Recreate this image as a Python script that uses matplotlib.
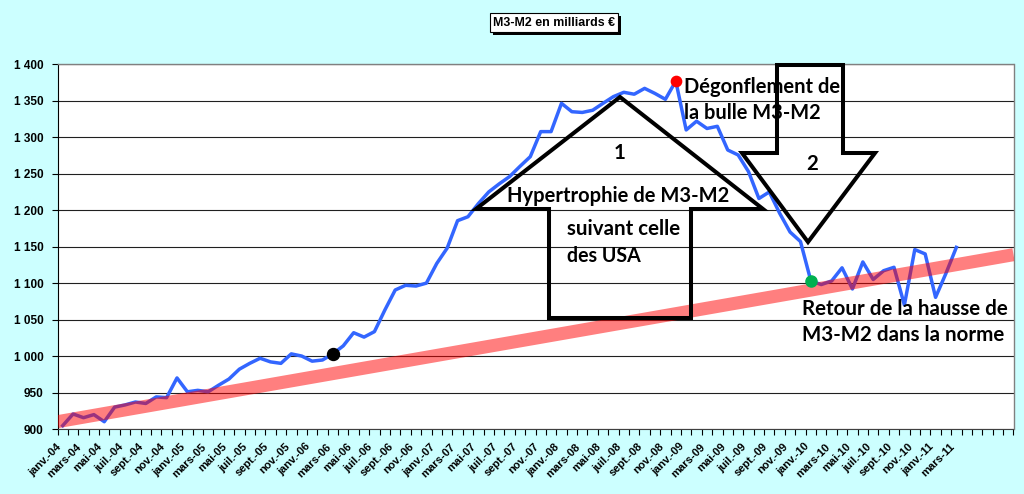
import numpy as np
import matplotlib
matplotlib.use("Agg")
import matplotlib.pyplot as plt
from matplotlib.patches import Polygon, Rectangle
from matplotlib.ticker import FuncFormatter, FixedLocator

# ---------------- data ----------------
month_abbr = ['janv.', 'févr.', 'mars', 'avr.', 'mai', 'juin',
              'juil.', 'août', 'sept.', 'oct.', 'nov.', 'déc.']
start_year = 2004
n_categories = 92          # category slots on the axis (data ends at mars-11)

m3_m2 = [904.6, 920.6, 915.5, 919.7, 910.0, 930.0, 933.0, 937.0, 935.0, 944.0,
         943.0, 970.0, 951.0, 953.0, 951.0, 960.0, 968.5, 982.0, 990.0, 997.0,
         992.0, 990.0, 1003.0, 1000.0, 993.0, 994.6, 1003.0, 1014.0, 1032.0, 1026.0,
         1033.5, 1063.0, 1090.6, 1097.0, 1096.0, 1100.0, 1127.0, 1148.0, 1185.6, 1191.0,
         1209.0, 1225.0, 1236.0, 1246.0, 1260.0, 1273.4, 1307.7, 1307.7, 1346.5, 1335.0,
         1334.0, 1337.0, 1346.5, 1355.7, 1361.6, 1359.0, 1367.0, 1360.0, 1352.0, 1377.0,
         1310.0, 1322.0, 1312.0, 1315.0, 1282.5, 1275.7, 1252.8, 1216.0, 1225.0, 1195.7,
         1170.0, 1157.0, 1103.0, 1098.0, 1103.0, 1121.0, 1092.0, 1129.0, 1105.0, 1117.0,
         1121.7, 1070.0, 1146.0, 1140.0, 1080.5, 1113.4, 1149.0]

categories = [f"{month_abbr[k % 12]}-{(start_year + k // 12) % 100:02d}"
              for k in range(len(m3_m2))] + [''] * (n_categories - len(m3_m2))

trend_start = 910.0
trend_end = 1139.0

highlight_idx = [26, 59, 72]
highlight_colors = ['#000000', '#FF0000', '#00B050']
highlight_sizes = [8.6, 7.4, 8.0]

y_ticks = list(range(900, 1401, 50))

title_text = "M3-M2 en milliards €"
# text, x (px), baseline y (px), alignment, target width (px or None)
notes = [
    ("Dégonflement de", 684, 93.3, 'left', 156),
    ("la bulle M3-M2", 684, 119.3, 'left', 136),
    ("Hypertrophie de M3-M2", 507, 202.0, 'left', 222),
    ("suivant celle", 567, 235.0, 'left', 113),
    ("des USA", 567, 261.7, 'left', 74),
    ("Retour de la hausse de", 802, 315.0, 'left', 206),
    ("M3-M2 dans la norme", 802, 341.0, 'left', 202),
    ("1", 620, 159.3, 'center', None),
    ("2", 811.7, 170.0, 'center', None),
]

# ---------------- figure ----------------
W, H = 1024, 494
BG = '#CCFFFF'
fig = plt.figure(figsize=(W / 100, H / 100), dpi=100, facecolor=BG)

def fx(x):
    return x / W

def fy(y):
    return 1 - y / H

left_px, right_px, top_px, bot_px = 57.5, 1013.5, 64.3, 429.0
ax = fig.add_axes([fx(left_px), fy(bot_px), (right_px - left_px) / W, (bot_px - top_px) / H])
ax.set_facecolor('white')

x = np.arange(len(m3_m2))
ax.set_xlim(-0.5, n_categories - 0.5)
ax.set_ylim(y_ticks[0], y_ticks[-1])

# grid
ax.set_yticks(y_ticks)
ax.yaxis.grid(True, color='#202020', lw=0.8)
ax.set_axisbelow(True)

# main series
ax.plot(x, m3_m2, color='#3366FF', lw=2.5, zorder=3, solid_joinstyle='round')

# trend band (semi-transparent red)
ax.plot([-0.5, n_categories - 0.5], [trend_start, trend_end], color='#FF0000',
        alpha=0.5, lw=9.4, solid_capstyle='butt', zorder=4)

# highlighted points
for idx, col, ms in zip(highlight_idx, highlight_colors, highlight_sizes):
    ax.plot([x[idx]], [m3_m2[idx]], 'o', color=col, ms=ms, mec=col, zorder=5)

# spines
for s in ['top', 'right']:
    ax.spines[s].set_color('#808080')
    ax.spines[s].set_linewidth(1.0)
ax.spines['left'].set_color('black')
ax.spines['bottom'].set_color('#404040')

# y ticks
ax.yaxis.set_major_formatter(FuncFormatter(lambda v, p: f"{int(v):,}".replace(',', ' ')))
ax.tick_params(axis='y', direction='out', length=4, width=0.8, pad=6.0,
               labelsize=8.5, colors='black')
for lab in ax.get_yticklabels():
    lab.set_fontfamily('Liberation Sans')
    lab.set_fontweight('bold')

# x ticks: boundaries as major, labels at every other category as minor
ax.xaxis.set_major_locator(FixedLocator(np.arange(-0.5, n_categories, 1.0)))
ax.xaxis.set_major_formatter(FuncFormatter(lambda v, p: ''))
label_pos = list(range(0, len(m3_m2), 2))
ax.xaxis.set_minor_locator(FixedLocator(label_pos))
ax.xaxis.set_minor_formatter(FuncFormatter(lambda v, p: categories[int(round(v))]))
ax.tick_params(axis='x', which='major', direction='out', length=4, width=0.8)
ax.tick_params(axis='x', which='minor', length=0, pad=9, labelsize=8)
for lab in ax.xaxis.get_minorticklabels():
    lab.set_rotation(45)
    lab.set_ha('right')
    lab.set_va('top')
    lab.set_fontfamily('Liberation Sans')
    lab.set_fontweight('bold')

# ---------------- annotations ----------------
renderer = fig.canvas.get_renderer()

def fit(t, target_px):
    w = t.get_window_extent(renderer).width
    t.set_fontsize(t.get_fontsize() * target_px / w)

# title box with shadow
bx0, by0, bx1, by1 = 490, 13, 618, 32
fig.patches.append(Rectangle((fx(bx0 + 3), fy(by1 + 3)), (bx1 - bx0) / W, (by1 - by0) / H,
                             transform=fig.transFigure, facecolor='black', edgecolor='none', zorder=1))
fig.patches.append(Rectangle((fx(bx0), fy(by1)), (bx1 - bx0) / W, (by1 - by0) / H,
                             transform=fig.transFigure, facecolor='white', edgecolor='black',
                             lw=0.8, zorder=2))
tt = fig.text(fx((bx0 + bx1) / 2), fy((by0 + by1) / 2 + 0.5), title_text, ha='center', va='center',
              family=['Liberation Sans Narrow', 'DejaVu Sans Condensed', 'Liberation Sans'],
              fontweight='bold', fontsize=8, zorder=3)
fit(tt, 122)

# block arrows (outlined)
up_arrow = [(476, 209), (620, 97), (763, 209), (691, 209), (691, 318), (549, 318), (549, 209)]
down_arrow = [(777, 65), (843, 65), (843, 153), (875, 153), (808, 242), (742, 153), (777, 153)]
for verts in (up_arrow, down_arrow):
    fig.patches.append(Polygon([(fx(a), fy(b)) for a, b in verts], closed=True,
                               transform=fig.transFigure, fill=False, edgecolor='black',
                               lw=2.9, joinstyle='miter', zorder=6))

# annotation texts
ref = fig.text(0, 0, "Retour de la hausse de", family=['Lato', 'DejaVu Sans'],
               fontweight='bold', fontsize=13)
fit(ref, 206)
note_fs = ref.get_fontsize()
ref.remove()
for txt, px, py, ha, target in notes:
    t = fig.text(fx(px), fy(py), txt, ha=ha, va='baseline', family=['Lato', 'DejaVu Sans'],
                 fontweight='bold', fontsize=note_fs, color='black', zorder=7)
    if target is not None:
        fit(t, target)

fig.savefig("out.png", dpi=100, facecolor=BG)
